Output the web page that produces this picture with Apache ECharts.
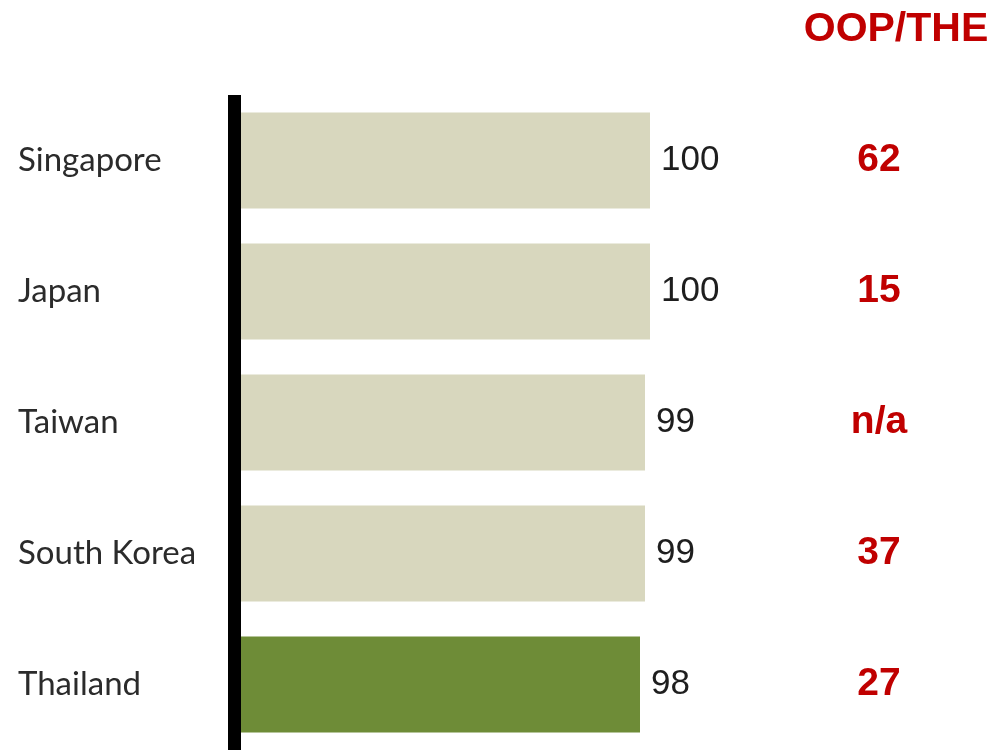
<!DOCTYPE html>
<html>
<head>
<meta charset="utf-8">
<script src="https://cdn.jsdelivr.net/npm/echarts@6/dist/echarts.min.js"></script>
<style>
html,body{margin:0;padding:0;background:#ffffff;}
#chart{width:1003px;height:756px;}
</style>
</head>
<body>
<div id="chart"></div>
<script>
const categories = ['Singapore', 'Japan', 'Taiwan', 'South Korea', 'Thailand'];
const values = [100, 100, 99, 99, 98];
const oopThe = ['62', '15', 'n/a', '37', '27'];
const oopTitle = 'OOP/THE';
const highlight = 'Thailand';

const chart = echarts.init(document.getElementById('chart'));
chart.setOption({
  backgroundColor: '#ffffff',
  animation: false,
  title: {
    text: oopTitle,
    left: 891,
    top: 4,
    textAlign: 'center',
    textStyle: { color: '#C00000', fontSize: 41, fontWeight: 'bold', fontFamily: 'Liberation Sans, Arial, sans-serif' }
  },
  grid: { left: 241, top: 95, width: 519, height: 655 },
  xAxis: {
    type: 'value', min: 18.2, max: 122,
    show: false
  },
  yAxis: [
    {
      type: 'category', data: categories, inverse: true, offset: 7,
      axisLine: { show: true, lineStyle: { color: '#000', width: 13, cap: 'butt' } },
      axisTick: { show: false },
      axisLabel: {
        align: 'left', margin: 216,
        color: '#2b2b2b', fontSize: 33, fontFamily: 'Lato, sans-serif'
      }
    },
    {
      type: 'category', data: oopThe, inverse: true, position: 'right',
      axisLine: { show: false }, axisTick: { show: false },
      axisLabel: {
        align: 'center', margin: 119, padding: [0, 0, 14, 0],
        color: '#C00000', fontSize: 39, fontWeight: 'bold', fontFamily: 'Liberation Sans, Arial, sans-serif'
      }
    }
  ],
  series: [{
    type: 'bar',
    data: values.map((v, i) => ({
      value: v,
      itemStyle: { color: categories[i] === highlight ? '#6E8C37' : '#D8D7BE' }
    })),
    barCategoryGap: '26.7%',
    label: {
      show: true, position: 'right', distance: 11,
      color: '#1e1e1e', fontSize: 35, fontFamily: 'Liberation Sans, Arial, sans-serif'
    }
  }]
});
</script>
</body>
</html>
